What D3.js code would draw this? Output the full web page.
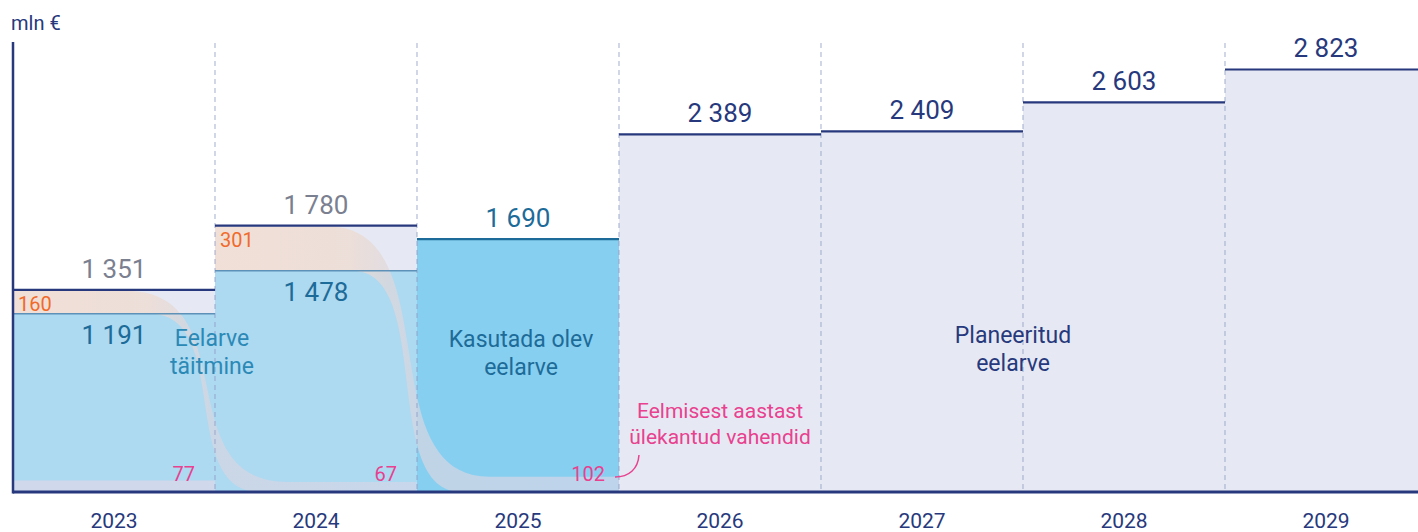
<!DOCTYPE html>
<html><head><meta charset="utf-8">
<script src="https://cdn.jsdelivr.net/npm/d3@7"></script>
<style>html,body{margin:0;padding:0;background:#fff;} svg{display:block;font-family:Roboto,"Noto Sans",sans-serif;}</style>
</head><body><svg id="chart" width="1418" height="532"></svg>
<script>
// ---- data ----
const years = ["2023", "2024", "2025", "2026", "2027", "2028", "2029"];
const totals = [1351, 1780, 1690, 2389, 2409, 2603, 2823];
const executed = [1191, 1478, null, null, null, null, null];
const unusedBand = [160, 301, null, null, null, null, null];
const carriedIn = [77, 67, 102, null, null, null, null];
const kinds = ["actual", "actual", "current", "plan", "plan", "plan", "plan"];
const yMax = 3000;
const unitLabel = "mln €";
const fmt = v => String(v).replace(/\B(?=(\d{3})+(?!\d))/g, " ");

// ---- layout ----
const svg = d3.select("#chart");
const leftX = 13, bw = 202, baseY = 492, topY = 43;
const x = d3.scaleBand().domain(years).range([leftX, leftX + bw * years.length]).padding(0);
const y = d3.scaleLinear().domain([0, yMax]).range([baseY, topY]);

const C = {
  navy: "#27397c", gray: "#7b8090", teal: "#1d6b98", teal2: "#2b89b6",
  orange: "#f06b2b", pink: "#e8418f", lav: "#e6e9f3", lblue: "#add9f1",
  bblue: "#87cff0", strip: "#d0d8ec", execLine: "#5d91b8"
};

const data = years.map((yr, i) => ({ yr, i, total: totals[i], exec: executed[i], unused: unusedBand[i], carried: carriedIn[i], kind: kinds[i] }));

// ---- backgrounds ----
const g = svg.append("g");
data.forEach(d => {
  const x0 = x(d.yr);
  if (d.kind === "actual") {
    g.append("rect").attr("x", x0).attr("width", bw).attr("y", y(d.total)).attr("height", y(d.exec) - y(d.total)).attr("fill", C.lav);
    g.append("rect").attr("x", x0).attr("width", bw).attr("y", y(d.exec)).attr("height", y(0) - y(d.exec)).attr("fill", C.lblue);
  } else if (d.kind === "current") {
    g.append("rect").attr("x", x0).attr("width", bw).attr("y", y(d.total)).attr("height", y(0) - y(d.total)).attr("fill", C.bblue);
  } else {
    g.append("rect").attr("x", x0).attr("width", bw).attr("y", y(d.total)).attr("height", y(0) - y(d.total)).attr("fill", C.lav);
  }
});
// first year's carried-in strip (from the year before, no flow shown)
g.append("rect").attr("x", x(years[0])).attr("width", bw).attr("y", y(carriedIn[0])).attr("height", y(0) - y(carriedIn[0])).attr("fill", C.strip);

// ---- flows ----
const defs = svg.append("defs");
data.forEach(d => {
  if (d.unused == null || d.i + 1 >= data.length || data[d.i + 1].carried == null) return;
  const nx = data[d.i + 1];
  const x0 = x(d.yr), xm = x0 + bw, x2 = xm + bw;
  const yT0 = y(d.total) + 1, yB0 = y(d.exec);
  const yT1 = y(nx.carried), yB1 = y(0);
  const ta = xm - 0.44 * bw, tb = xm + 0.36 * bw;
  const ba = xm - 0.32 * bw, bb = xm + 0.22 * bw;
  const k = 0.75;
  const id = "flowGrad" + d.i;
  const gr = defs.append("linearGradient").attr("id", id).attr("gradientUnits", "userSpaceOnUse")
    .attr("x1", x0).attr("x2", x2).attr("y1", 0).attr("y2", 0);
  [[0, "#f5dccc"], [0.33, "#efdace"], [0.5, "#d6d6e2"], [1, "#d3d6ea"]].forEach(s => gr.append("stop").attr("offset", s[0]).attr("stop-color", s[1]));
  const p = d3.path();
  p.moveTo(x0, yT0); p.lineTo(ta, yT0);
  p.bezierCurveTo(ta + k * (tb - ta), yT0, tb - k * (tb - ta), yT1, tb, yT1);
  p.lineTo(x2, yT1); p.lineTo(x2, yB1); p.lineTo(bb, yB1);
  p.bezierCurveTo(bb - k * (bb - ba), yB1, ba + k * (bb - ba), yB0, ba, yB0);
  p.lineTo(x0, yB0); p.closePath();
  g.append("path").attr("d", p.toString()).attr("fill", `url(#${id})`).attr("fill-opacity", 0.72);
});

// ---- gridlines ----
years.slice(1).forEach(yr => {
  svg.append("line").attr("x1", x(yr)).attr("x2", x(yr)).attr("y1", y(yMax)).attr("y2", y(0))
    .attr("stroke", "#8e9cc4").attr("stroke-opacity", 0.5).attr("stroke-width", 1.6).attr("stroke-dasharray", "5,4");
});

// ---- level lines ----
data.forEach(d => {
  const x0 = x(d.yr);
  svg.append("line").attr("x1", x0).attr("x2", x0 + bw).attr("y1", y(d.total)).attr("y2", y(d.total))
    .attr("stroke", d.kind === "current" ? C.teal : C.navy).attr("stroke-width", 2.2);
  if (d.exec != null) {
    svg.append("line").attr("x1", x0).attr("x2", x0 + bw).attr("y1", y(d.exec)).attr("y2", y(d.exec))
      .attr("stroke", C.execLine).attr("stroke-width", 1.6);
  }
});

// ---- axes ----
svg.append("line").attr("x1", leftX).attr("x2", leftX).attr("y1", y(yMax) - 1).attr("y2", y(0) + 1.5).attr("stroke", C.navy).attr("stroke-width", 2.5);
const xAxis = d3.axisBottom(x).tickSize(0).tickPadding(0);
const ax = svg.append("g").attr("transform", `translate(0,${y(0)})`).call(xAxis);
ax.select(".domain").attr("stroke", C.navy).attr("stroke-width", 3).attr("d", `M${leftX},0H1418`);
ax.selectAll(".tick text").attr("fill", C.navy).attr("font-size", 21).attr("dy", null).attr("y", 36)
  .attr("font-family", "Roboto, 'Noto Sans', sans-serif");

svg.append("text").attr("x", 11).attr("y", 30).attr("fill", C.navy).attr("font-size", 20).text(unitLabel);

// ---- labels ----
data.forEach(d => {
  const x0 = x(d.yr), cx = x0 + bw / 2;
  svg.append("text").attr("x", cx).attr("y", y(d.total) - 12).attr("text-anchor", "middle").attr("font-size", 26)
    .attr("fill", d.kind === "actual" ? C.gray : d.kind === "current" ? C.teal : C.navy).text(fmt(d.total));
  if (d.exec != null) {
    svg.append("text").attr("x", cx).attr("y", y(d.exec) + 30).attr("text-anchor", "middle").attr("font-size", 26)
      .attr("fill", C.teal).text(fmt(d.exec));
  }
  if (d.unused != null) {
    svg.append("text").attr("x", x0 + 5).attr("y", y(d.total) + 21).attr("font-size", 20).attr("fill", C.orange).text(fmt(d.unused));
  }
  if (d.carried != null) {
    svg.append("text").attr("x", x0 + bw - (d.kind === "current" ? 14 : 20)).attr("y", y(0) - 11).attr("text-anchor", "end")
      .attr("font-size", 20).attr("fill", C.pink).text(fmt(d.carried));
  }
});

// ---- annotations ----
function multi(txt, cx, y0, lh, size, color) {
  const t = svg.append("text").attr("text-anchor", "middle").attr("font-size", size).attr("fill", color);
  txt.forEach((s, j) => t.append("tspan").attr("x", cx).attr("y", y0 + j * lh).text(s));
}
multi(["Eelarve", "täitmine"], x("2024") - 3, 346, 28, 23, C.teal2);
multi(["Kasutada olev", "eelarve"], x("2025") + bw / 2 + 3, 347, 28, 23, C.teal);
multi(["Planeeritud", "eelarve"], x("2028") - 10, 343, 28, 23, C.navy);
multi(["Eelmisest aastast", "ülekantud vahendid"], x("2026") + bw / 2, 418, 26, 21, C.pink);

const lx = x("2025") + bw - 4, ly = y(0) - 15;
const lp = d3.path();
lp.moveTo(lx, ly);
lp.bezierCurveTo(lx + 14, ly, lx + 23, ly - 8, lx + 24, ly - 22);
svg.append("path").attr("d", lp.toString()).attr("fill", "none").attr("stroke", C.pink).attr("stroke-width", 1.5);
</script></body></html>
